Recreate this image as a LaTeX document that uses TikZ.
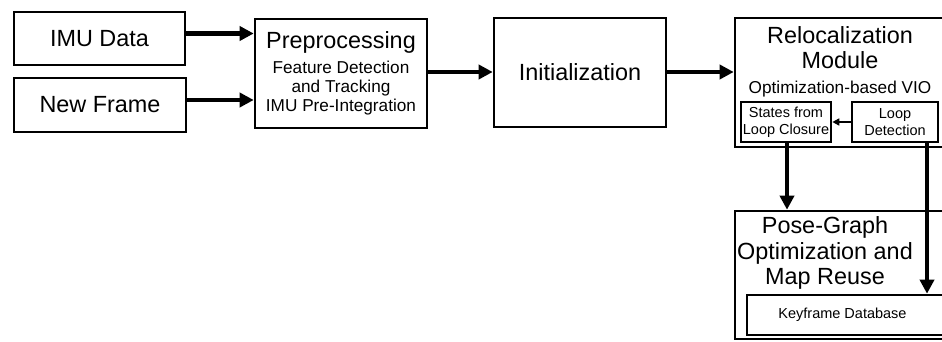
\documentclass[tikz,border=0pt]{standalone}
\usepackage{fontspec}
\setmainfont{Liberation Sans}
\usetikzlibrary{arrows.meta}

\newcommand{\bigsz}{\fontsize{23.4}{25.2}\selectfont}
\newcommand{\midsz}{\fontsize{17.2}{19.2}\selectfont}
\newcommand{\smallsz}{\fontsize{14.5}{16.7}\selectfont}

\begin{document}
\begin{tikzpicture}
        [
            x = 1pt, y = -1pt,
            box/.style = {draw, line width = 2.6pt, inner sep = 0pt, align = center},
            flow/.style = {line width = 4.6pt, -{Triangle[length = 14pt, width = 14pt]}},
            small flow/.style = {line width = 1.6pt, -{Triangle[length = 7pt, width = 7pt]}}
        ]
        \clip (0,0) rectangle (942,342);

        \node[box, minimum width = 171pt, minimum height = 53pt] (imu) at (99.5,38.5) {\bigsz IMU Data};
        \node[box, minimum width = 172pt, minimum height = 54pt] (frame) at (100,105) {\bigsz New Frame};
        \node[box, font = \midsz, minimum width = 172pt, minimum height = 109pt] (pre) at (341,73.5)
            {{\bigsz Preprocessing}\\[5.8pt] Feature Detection\\ and Tracking\\ IMU Pre-Integration};
        \node[box, minimum width = 172pt, minimum height = 109pt] (init) at (580,72.5) {\bigsz Initialization};

        \node[box, minimum width = 210pt, minimum height = 129pt] (reloc) at (840,82.5) {};
        \node[align = center, font = \bigsz, inner sep = 0pt] (reloctitle) at (840,61.6)
            {Relocalization\\ Module\\ {\midsz Optimization-based VIO}};
        \node[box, font = \smallsz, minimum width = 90pt, minimum height = 40pt] (states) at (786,122)
            {States from\\ Loop Closure};
        \node[box, font = \smallsz, minimum width = 86pt, minimum height = 40pt] (loopdet) at (895,122)
            {Loop\\ Detection};

        \node[box, minimum width = 210pt, minimum height = 128pt] (pose) at (840,275) {};
        \node[align = center, font = \bigsz, inner sep = 0pt] (posetitle) at (825,253)
            {Pose-Graph\\ Optimization and\\ Map Reuse};
        \node[box, font = \smallsz, minimum width = 203pt, minimum height = 40pt] (kf) at (848.5,315)
            {\hspace*{-12pt}Keyframe Database};

        \draw[flow] ([yshift = 5pt]imu.east) -- ([yshift = 5pt]imu.east -| pre.west);
        \draw[flow] ([yshift = 5pt]frame.east) -- ([yshift = 5pt]frame.east -| pre.west);
        \draw[flow] (pre.east |- 0,72) -- (init.west |- 0,72);
        \draw[flow] (init.east |- 0,72) -- (reloc.west |- 0,72);
        \draw[small flow] (loopdet.west) -- (states.east);
        \draw[flow] (states.south -| 787,0) -- (pose.north -| 787,0);
        \draw[flow] (loopdet.south -| 927,0) -- (kf.north -| 927,0);
\end{tikzpicture}
\end{document}
